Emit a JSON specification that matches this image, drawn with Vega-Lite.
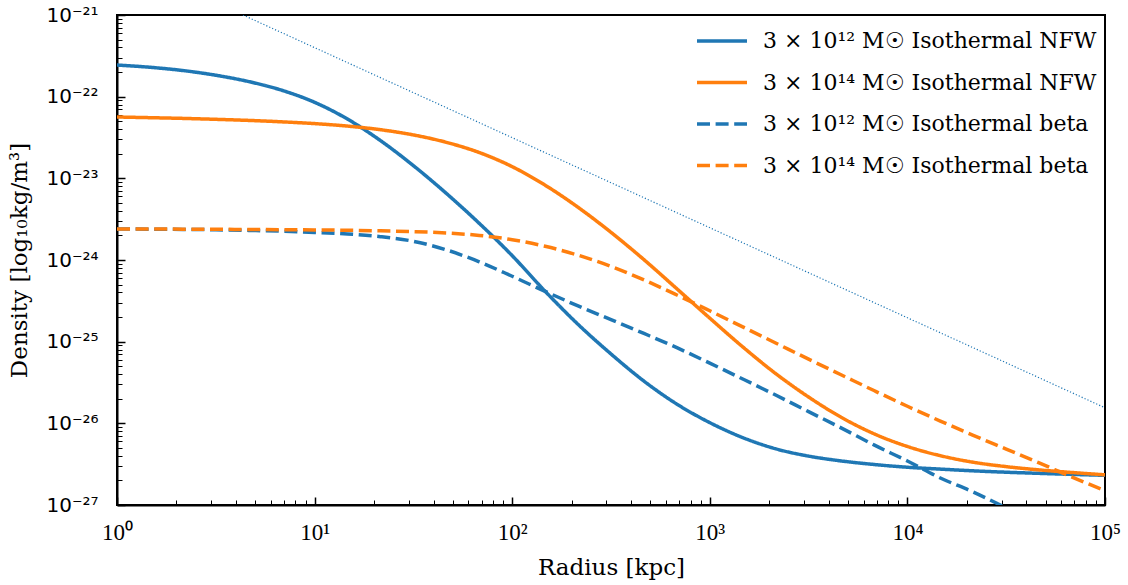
{
  "$schema": "https://vega.github.io/schema/vega-lite/v6.json",
  "width": 988,
  "height": 490,
  "autosize": {"type": "none"},
  "padding": {"left": 117, "top": 15, "right": 23, "bottom": 80},
  "background": "white",
  "config": {
    "view": {"stroke": "black", "strokeWidth": 2},
    "axis": {"grid": false, "domainColor": "black", "domainWidth": 2, "tickColor": "black", "labelColor": "black", "titleColor": "black", "titleFontWeight": "normal", "labelFlush": false, "labelOverlap": false}
  },
  "datasets": {
    "curves": [
      {"r": 1, "rho": 2.44e-22, "series": "nfw12"},
      {"r": 1.468, "rho": 2.29e-22, "series": "nfw12"},
      {"r": 2.154, "rho": 2.09e-22, "series": "nfw12"},
      {"r": 3.162, "rho": 1.83e-22, "series": "nfw12"},
      {"r": 4.642, "rho": 1.53e-22, "series": "nfw12"},
      {"r": 6.813, "rho": 1.20e-22, "series": "nfw12"},
      {"r": 10, "rho": 8.53e-23, "series": "nfw12"},
      {"r": 14.68, "rho": 5.31e-23, "series": "nfw12"},
      {"r": 21.54, "rho": 2.90e-23, "series": "nfw12"},
      {"r": 31.62, "rho": 1.43e-23, "series": "nfw12"},
      {"r": 46.42, "rho": 6.54e-24, "series": "nfw12"},
      {"r": 68.13, "rho": 2.81e-24, "series": "nfw12"},
      {"r": 100, "rho": 1.13e-24, "series": "nfw12"},
      {"r": 146.8, "rho": 4.14e-25, "series": "nfw12"},
      {"r": 215.4, "rho": 1.63e-25, "series": "nfw12"},
      {"r": 316.2, "rho": 7.07e-26, "series": "nfw12"},
      {"r": 464.2, "rho": 3.29e-26, "series": "nfw12"},
      {"r": 681.3, "rho": 1.72e-26, "series": "nfw12"},
      {"r": 1000, "rho": 1.02e-26, "series": "nfw12"},
      {"r": 1468, "rho": 6.69e-27, "series": "nfw12"},
      {"r": 2154, "rho": 4.88e-27, "series": "nfw12"},
      {"r": 3162, "rho": 3.97e-27, "series": "nfw12"},
      {"r": 4642, "rho": 3.46e-27, "series": "nfw12"},
      {"r": 6813, "rho": 3.13e-27, "series": "nfw12"},
      {"r": 10000, "rho": 2.90e-27, "series": "nfw12"},
      {"r": 14678, "rho": 2.75e-27, "series": "nfw12"},
      {"r": 21544, "rho": 2.62e-27, "series": "nfw12"},
      {"r": 31623, "rho": 2.52e-27, "series": "nfw12"},
      {"r": 46416, "rho": 2.44e-27, "series": "nfw12"},
      {"r": 68129, "rho": 2.37e-27, "series": "nfw12"},
      {"r": 100000, "rho": 2.31e-27, "series": "nfw12"},

      {"r": 1, "rho": 5.64e-23, "series": "nfw14"},
      {"r": 1.468, "rho": 5.53e-23, "series": "nfw14"},
      {"r": 2.154, "rho": 5.42e-23, "series": "nfw14"},
      {"r": 3.162, "rho": 5.28e-23, "series": "nfw14"},
      {"r": 4.642, "rho": 5.12e-23, "series": "nfw14"},
      {"r": 6.813, "rho": 4.92e-23, "series": "nfw14"},
      {"r": 10, "rho": 4.68e-23, "series": "nfw14"},
      {"r": 14.68, "rho": 4.36e-23, "series": "nfw14"},
      {"r": 21.54, "rho": 3.94e-23, "series": "nfw14"},
      {"r": 31.62, "rho": 3.40e-23, "series": "nfw14"},
      {"r": 46.42, "rho": 2.76e-23, "series": "nfw14"},
      {"r": 68.13, "rho": 2.07e-23, "series": "nfw14"},
      {"r": 100, "rho": 1.39e-23, "series": "nfw14"},
      {"r": 146.8, "rho": 8.24e-24, "series": "nfw14"},
      {"r": 215.4, "rho": 4.42e-24, "series": "nfw14"},
      {"r": 316.2, "rho": 2.18e-24, "series": "nfw14"},
      {"r": 464.2, "rho": 1.01e-24, "series": "nfw14"},
      {"r": 681.3, "rho": 4.44e-25, "series": "nfw14"},
      {"r": 1000, "rho": 1.94e-25, "series": "nfw14"},
      {"r": 1468, "rho": 8.63e-26, "series": "nfw14"},
      {"r": 2154, "rho": 4.07e-26, "series": "nfw14"},
      {"r": 3162, "rho": 2.10e-26, "series": "nfw14"},
      {"r": 4642, "rho": 1.18e-26, "series": "nfw14"},
      {"r": 6813, "rho": 7.41e-27, "series": "nfw14"},
      {"r": 10000, "rho": 5.21e-27, "series": "nfw14"},
      {"r": 14678, "rho": 4.02e-27, "series": "nfw14"},
      {"r": 21544, "rho": 3.34e-27, "series": "nfw14"},
      {"r": 31623, "rho": 2.95e-27, "series": "nfw14"},
      {"r": 46416, "rho": 2.69e-27, "series": "nfw14"},
      {"r": 68129, "rho": 2.50e-27, "series": "nfw14"},
      {"r": 100000, "rho": 2.34e-27, "series": "nfw14"},

      {"r": 1, "rho": 2.398e-24, "series": "beta12"},
      {"r": 1.468, "rho": 2.384e-24, "series": "beta12"},
      {"r": 2.154, "rho": 2.371e-24, "series": "beta12"},
      {"r": 3.162, "rho": 2.344e-24, "series": "beta12"},
      {"r": 4.642, "rho": 2.305e-24, "series": "beta12"},
      {"r": 6.813, "rho": 2.253e-24, "series": "beta12"},
      {"r": 10, "rho": 2.178e-24, "series": "beta12"},
      {"r": 14.68, "rho": 2.082e-24, "series": "beta12"},
      {"r": 21.54, "rho": 1.929e-24, "series": "beta12"},
      {"r": 31.62, "rho": 1.695e-24, "series": "beta12"},
      {"r": 46.42, "rho": 1.330e-24, "series": "beta12"},
      {"r": 68.13, "rho": 9.51e-25, "series": "beta12"},
      {"r": 100, "rho": 6.32e-25, "series": "beta12"},
      {"r": 146.8, "rho": 4.13e-25, "series": "beta12"},
      {"r": 215.4, "rho": 2.74e-25, "series": "beta12"},
      {"r": 316.2, "rho": 1.86e-25, "series": "beta12"},
      {"r": 464.2, "rho": 1.26e-25, "series": "beta12"},
      {"r": 681.3, "rho": 8.44e-26, "series": "beta12"},
      {"r": 1000, "rho": 5.45e-26, "series": "beta12"},
      {"r": 1468, "rho": 3.49e-26, "series": "beta12"},
      {"r": 2154, "rho": 2.22e-26, "series": "beta12"},
      {"r": 3162, "rho": 1.39e-26, "series": "beta12"},
      {"r": 4642, "rho": 8.75e-27, "series": "beta12"},
      {"r": 6813, "rho": 5.40e-27, "series": "beta12"},
      {"r": 10000, "rho": 3.459e-27, "series": "beta12"},
      {"r": 14678, "rho": 2.142e-27, "series": "beta12"},
      {"r": 21544, "rho": 1.443e-27, "series": "beta12"},
      {"r": 31623, "rho": 9.19e-28, "series": "beta12"},

      {"r": 1, "rho": 2.398e-24, "series": "beta14"},
      {"r": 1.468, "rho": 2.393e-24, "series": "beta14"},
      {"r": 2.154, "rho": 2.386e-24, "series": "beta14"},
      {"r": 3.162, "rho": 2.377e-24, "series": "beta14"},
      {"r": 4.642, "rho": 2.366e-24, "series": "beta14"},
      {"r": 6.813, "rho": 2.353e-24, "series": "beta14"},
      {"r": 10, "rho": 2.336e-24, "series": "beta14"},
      {"r": 14.68, "rho": 2.312e-24, "series": "beta14"},
      {"r": 21.54, "rho": 2.278e-24, "series": "beta14"},
      {"r": 31.62, "rho": 2.226e-24, "series": "beta14"},
      {"r": 46.42, "rho": 2.144e-24, "series": "beta14"},
      {"r": 68.13, "rho": 2.000e-24, "series": "beta14"},
      {"r": 100, "rho": 1.773e-24, "series": "beta14"},
      {"r": 146.8, "rho": 1.472e-24, "series": "beta14"},
      {"r": 215.4, "rho": 1.145e-24, "series": "beta14"},
      {"r": 316.2, "rho": 8.351e-25, "series": "beta14"},
      {"r": 464.2, "rho": 5.708e-25, "series": "beta14"},
      {"r": 681.3, "rho": 3.729e-25, "series": "beta14"},
      {"r": 1000, "rho": 2.388e-25, "series": "beta14"},
      {"r": 1468, "rho": 1.517e-25, "series": "beta14"},
      {"r": 2154, "rho": 9.634e-26, "series": "beta14"},
      {"r": 3162, "rho": 6.103e-26, "series": "beta14"},
      {"r": 4642, "rho": 3.908e-26, "series": "beta14"},
      {"r": 6813, "rho": 2.503e-26, "series": "beta14"},
      {"r": 10000, "rho": 1.618e-26, "series": "beta14"},
      {"r": 14678, "rho": 1.066e-26, "series": "beta14"},
      {"r": 21544, "rho": 7.141e-27, "series": "beta14"},
      {"r": 31623, "rho": 4.838e-27, "series": "beta14"},
      {"r": 46416, "rho": 3.279e-27, "series": "beta14"},
      {"r": 68129, "rho": 2.197e-27, "series": "beta14"},
      {"r": 100000, "rho": 1.497e-27, "series": "beta14"}
    ],
    "ref": [
      {"r": 4.34, "rho": 1e-21},
      {"r": 100000, "rho": 1.55e-26}
    ]
  },
  "resolve": {"axis": {"x": "independent", "y": "independent"}},
  "layer": [
    {
      "data": {"name": "ref"},
      "mark": {"type": "line", "clip": true, "color": "#1f77b4", "strokeWidth": 1.2, "strokeDash": [1.2, 2]},
      "encoding": {
        "x": {"field": "r", "type": "quantitative", "scale": {"type": "log", "domain": [1, 100000], "nice": false},
          "axis": {"orient": "bottom", "values": [2,3,4,5,6,7,8,9,20,30,40,50,60,70,80,90,200,300,400,500,600,700,800,900,2000,3000,4000,5000,6000,7000,8000,9000,20000,30000,40000,50000,60000,70000,80000,90000], "labels": false, "domain": false, "tickSize": -5, "tickWidth": 1, "title": null}},
        "y": {"field": "rho", "type": "quantitative", "scale": {"type": "log", "domain": [1e-27, 1e-21], "nice": false},
          "axis": {"orient": "left", "values": [2e-27,3e-27,4e-27,5e-27,6e-27,7e-27,8e-27,9e-27,2e-26,3e-26,4e-26,5e-26,6e-26,7e-26,8e-26,9e-26,2e-25,3e-25,4e-25,5e-25,6e-25,7e-25,8e-25,9e-25,2e-24,3e-24,4e-24,5e-24,6e-24,7e-24,8e-24,9e-24,2e-23,3e-23,4e-23,5e-23,6e-23,7e-23,8e-23,9e-23,2e-22,3e-22,4e-22,5e-22,6e-22,7e-22,8e-22,9e-22], "labels": false, "domain": false, "tickSize": -5, "tickWidth": 1, "title": null}}
      }
    },
    {
      "data": {"name": "curves"},
      "mark": {"type": "line", "clip": true, "strokeWidth": 3.5, "interpolate": "monotone"},
      "encoding": {
        "x": {"field": "r", "type": "quantitative", "scale": {"type": "log", "domain": [1, 100000], "nice": false},
          "axis": {"orient": "bottom", "values": [1, 10, 100, 1000, 10000, 100000], "tickSize": -8, "tickWidth": 1.5, "labelPadding": 24, "labelFont": "Liberation Serif", "labelFontSize": 23,
            "labelExpr": "'10' + ['⁰','¹','²','³','⁴','⁵'][round(log(datum.value)/LN10)]",
            "title": "Radius [kpc]", "titleFont": "DejaVu Serif", "titleFontSize": 23, "titlePadding": 12}},
        "y": {"field": "rho", "type": "quantitative", "scale": {"type": "log", "domain": [1e-27, 1e-21], "nice": false},
          "axis": {"orient": "left", "values": [1e-27, 1e-26, 1e-25, 1e-24, 1e-23, 1e-22, 1e-21], "tickSize": -8, "tickWidth": 1.5, "labelPadding": 27, "labelFont": "DejaVu Sans", "labelFontSize": 20,
            "labelExpr": "'10⁻²' + ['⁰','¹','²','³','⁴','⁵','⁶','⁷','⁸','⁹'][(-round(log(datum.value)/LN10)) % 10]",
            "title": "Density [log₁₀kg/m³]", "titleFont": "DejaVu Serif", "titleFontSize": 23, "titlePadding": 14}},
        "detail": {"field": "series"},
        "color": {"field": "series", "type": "nominal",
          "scale": {"domain": ["nfw12", "nfw14", "beta12", "beta14"], "range": ["#1f77b4", "#ff7f0e", "#1f77b4", "#ff7f0e"]},
          "legend": {"orient": "none", "legendX": 578, "legendY": -1, "title": null, "labelFont": "DejaVu Serif", "labelFontSize": 22, "labelLimit": 600, "symbolType": "stroke", "symbolSize": 2500, "symbolStrokeWidth": 3.5, "rowPadding": 3.5, "labelOffset": 14,
            "labelExpr": "{'nfw12': '3 × 10¹² M☉ Isothermal NFW', 'nfw14': '3 × 10¹⁴ M☉ Isothermal NFW', 'beta12': '3 × 10¹² M☉ Isothermal beta', 'beta14': '3 × 10¹⁴ M☉ Isothermal beta'}[datum.value]"}},
        "strokeDash": {"field": "series", "type": "nominal",
          "scale": {"domain": ["nfw12", "nfw14", "beta12", "beta14"], "range": [[1, 0], [1, 0], [13, 5.6], [13, 5.6]]},
          "legend": {"orient": "none", "legendX": 578, "legendY": -1, "title": null, "labelFont": "DejaVu Serif", "labelFontSize": 22, "labelLimit": 600, "symbolType": "stroke", "symbolSize": 2500, "symbolStrokeWidth": 3.5, "rowPadding": 3.5, "labelOffset": 14,
            "labelExpr": "{'nfw12': '3 × 10¹² M☉ Isothermal NFW', 'nfw14': '3 × 10¹⁴ M☉ Isothermal NFW', 'beta12': '3 × 10¹² M☉ Isothermal beta', 'beta14': '3 × 10¹⁴ M☉ Isothermal beta'}[datum.value]"}}
      }
    }
  ]
}
